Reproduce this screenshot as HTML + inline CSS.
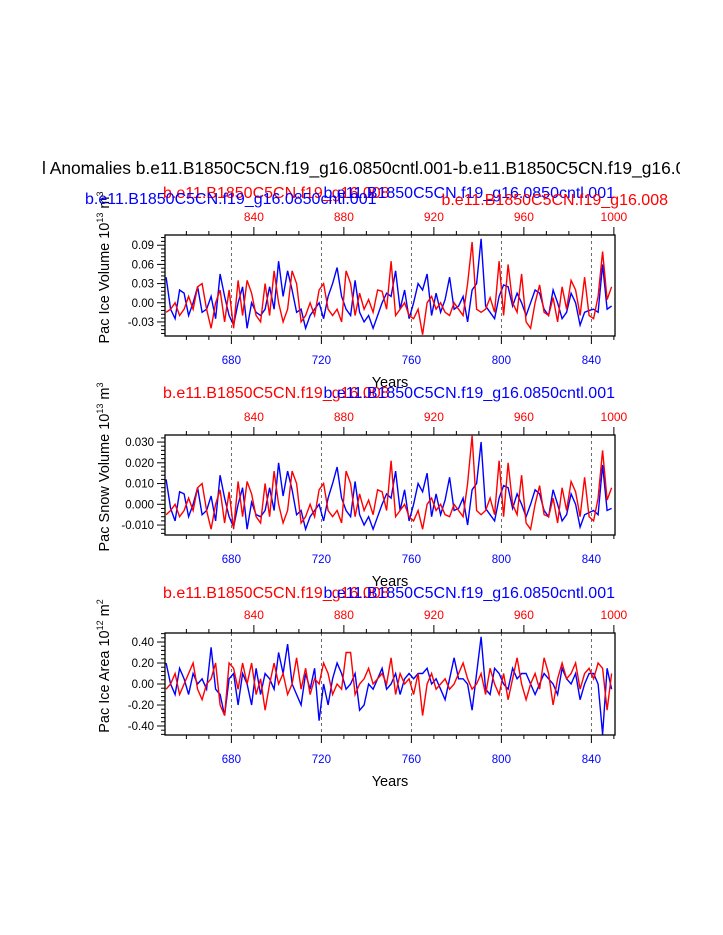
<!DOCTYPE html>
<html><head><meta charset="utf-8"><style>
body{margin:0;background:#fff;width:723px;height:935px;overflow:hidden;font-family:"Liberation Sans",sans-serif}
svg{display:block}
</style></head><body>
<svg id="chart" width="723" height="935" xmlns="http://www.w3.org/2000/svg" font-family="Liberation Sans, sans-serif">
<defs><clipPath id="tclip"><rect x="0" y="0" width="680" height="935"/></clipPath></defs>
<text x="42" y="174" font-size="17.4" clip-path="url(#tclip)">l Anomalies b.e11.B1850C5CN.f19_g16.0850cntl.001-b.e11.B1850C5CN.f19_g16.008</text>
</svg>
<script>
const years = []; for (let y = 651; y <= 849; y += 2) years.push(y);
const blueTicks = [680,720,760,800,840];
const redTicks = [840,880,920,960,1000];
const iceVolBlue = [0.04,-0.01,-0.025,0.02,0.015,-0.02,0.0,0.025,-0.015,-0.01,0.01,-0.025,0.045,0.01,-0.02,-0.035,0.0,0.025,-0.04,0.0,
-0.015,-0.02,-0.01,0.025,-0.01,0.065,0.01,0.05,0.02,-0.015,-0.01,-0.04,-0.02,-0.01,0.0,-0.025,0.01,0.03,0.055,0.01,
-0.01,-0.02,0.035,-0.015,-0.03,-0.02,-0.04,-0.02,0.0,0.015,0.01,0.05,-0.01,0.02,-0.025,0.0,0.03,0.02,0.045,-0.02,
0.015,-0.015,0.005,0.04,-0.01,-0.005,0.01,-0.03,0.02,0.03,0.1,-0.005,-0.015,-0.025,0.01,0.028,0.025,-0.005,0.015,0.0,
-0.02,0.0,0.02,0.015,-0.01,-0.02,0.02,0.0,-0.025,-0.015,0.015,0.0,-0.035,-0.015,-0.012,-0.01,-0.015,0.06,-0.01,-0.005];
const iceVolRed = [-0.015,-0.01,0.0,-0.02,-0.01,0.01,-0.01,0.025,0.03,-0.01,-0.04,0.0,0.02,-0.03,0.02,-0.04,0.035,-0.02,0.035,0.015,
-0.02,-0.03,0.03,-0.02,0.05,0.0,-0.03,-0.01,0.05,0.03,-0.03,-0.02,0.0,-0.02,0.02,0.03,-0.01,-0.02,-0.01,-0.03,
0.05,0.03,-0.02,0.015,-0.01,0.005,-0.015,0.02,0.018,-0.01,0.065,-0.02,-0.01,0.0,-0.02,-0.025,-0.01,-0.05,0.0,0.01,
-0.01,0.0,-0.015,-0.02,0.0,-0.01,-0.02,0.03,0.095,-0.01,-0.015,-0.01,0.008,-0.015,0.065,-0.02,0.06,0.0,-0.015,0.045,
-0.03,-0.04,0.0,0.028,-0.015,-0.02,0.008,-0.03,0.025,-0.01,0.035,0.02,-0.02,0.04,-0.02,-0.025,0.01,0.08,0.005,0.025];
const snowVolBlue = [0.012,-0.002,-0.008,0.006,0.005,-0.006,0.0,0.008,-0.005,-0.003,0.004,-0.008,0.014,0.003,-0.006,-0.011,0.0,0.008,-0.012,0.001,
-0.005,-0.006,-0.003,0.008,-0.003,0.02,0.004,0.016,0.007,-0.005,-0.003,-0.012,-0.006,-0.003,0.0,-0.008,0.003,0.01,0.018,0.003,
-0.003,-0.006,0.011,-0.005,-0.01,-0.006,-0.012,-0.006,0.0,0.005,0.003,0.016,-0.003,0.007,-0.008,0.0,0.01,0.006,0.015,-0.006,
0.005,-0.005,0.002,0.013,-0.003,-0.002,0.003,-0.01,0.007,0.01,0.03,-0.002,-0.005,-0.008,0.003,0.009,0.008,-0.002,0.005,0.0,
-0.006,0.0,0.007,0.005,-0.003,-0.006,0.007,0.0,-0.008,-0.005,0.005,0.0,-0.011,-0.005,-0.004,-0.003,-0.005,0.019,-0.003,-0.002];
const snowVolRed = [-0.005,-0.003,0.0,-0.006,-0.003,0.003,-0.003,0.008,0.01,-0.003,-0.012,0.0,0.007,-0.009,0.006,-0.012,0.011,-0.006,0.011,0.005,
-0.006,-0.009,0.01,-0.006,0.016,0.0,-0.009,-0.003,0.016,0.01,-0.009,-0.006,0.0,-0.006,0.007,0.01,-0.003,-0.006,-0.003,-0.009,
0.016,0.01,-0.006,0.005,-0.003,0.002,-0.005,0.007,0.006,-0.003,0.021,-0.006,-0.003,0.0,-0.006,-0.008,-0.003,-0.012,0.0,0.003,
-0.003,0.0,-0.005,-0.006,0.0,-0.003,-0.006,0.01,0.033,-0.003,-0.005,-0.003,0.003,-0.005,0.021,-0.006,0.02,0.0,-0.005,0.014,
-0.009,-0.012,0.0,0.009,-0.005,-0.006,0.003,-0.009,0.008,-0.003,0.011,0.006,-0.006,0.013,-0.006,-0.008,0.003,0.026,0.002,0.008];
const iceAreaBlue = [0.2,0.0,-0.1,0.15,0.05,-0.1,0.1,0.0,0.05,-0.05,0.35,-0.05,-0.1,-0.3,0.05,0.1,-0.2,0.1,0.0,-0.2,
0.15,-0.1,0.1,0.05,-0.05,0.3,0.1,0.38,0.0,-0.1,-0.2,0.1,-0.05,0.15,-0.35,0.0,-0.2,0.05,0.2,0.1,
-0.05,0.0,0.1,-0.25,-0.2,0.0,-0.05,0.05,0.15,-0.05,0.0,0.1,-0.1,0.05,0.1,0.05,0.1,0.1,0.15,0.0,
0.05,-0.05,-0.15,0.05,0.25,0.05,0.05,0.0,-0.25,0.1,0.45,-0.05,-0.1,0.15,0.1,0.0,-0.05,0.15,0.05,0.1,
0.1,0.0,-0.1,0.0,0.1,0.05,0.0,-0.1,0.15,0.05,0.0,0.1,-0.15,0.0,0.1,0.1,0.0,-0.48,0.15,-0.05];
const iceAreaRed = [-0.05,0.0,0.1,-0.1,0.0,0.1,0.2,-0.05,-0.15,0.0,0.05,0.2,-0.2,-0.3,0.2,0.15,-0.05,0.2,0.0,0.2,
-0.1,0.05,-0.25,0.0,0.2,0.0,0.1,-0.1,0.0,0.25,-0.05,0.15,-0.1,0.05,0.0,0.2,0.1,-0.1,0.0,-0.05,
0.3,0.3,-0.1,0.0,0.05,0.15,0.0,0.05,0.1,0.0,0.25,-0.1,0.1,0.0,0.05,-0.1,0.1,-0.3,0.0,0.1,
-0.05,0.0,0.05,-0.05,0.0,0.1,0.2,0.05,-0.05,0.0,0.1,-0.1,0.15,0.0,-0.1,0.1,-0.15,0.05,0.25,0.0,
-0.15,0.0,0.1,-0.05,0.25,0.1,-0.2,0.05,0.2,0.05,0.1,0.2,-0.05,0.1,0.15,0.05,0.2,0.15,-0.25,0.1];
const ticks1 = [0.09,0.06,0.03,0.00,-0.03], labels1 = ["0.09","0.06","0.03","0.00","-0.03"];
const ticks2 = [0.03,0.02,0.01,0.0,-0.01], labels2 = ["0.030","0.020","0.010","0.000","-0.010"];
const ticks3 = [0.4,0.2,0.0,-0.2,-0.4], labels3 = ["0.40","0.20","0.00","-0.20","-0.40"];

const svg = document.getElementById('chart');
const NS = 'http://www.w3.org/2000/svg';
function mk(tag, attrs, parent){const e=document.createElementNS(NS,tag);for(const k in attrs)e.setAttribute(k,attrs[k]);(parent||svg).appendChild(e);return e;}
const X0=165, X1=615, YR0=650.5, YR1=850.5;
const xs = yr => X0 + (yr-YR0)/(YR1-YR0)*(X1-X0);

function panel(cfg){
  const g = mk('g',{});
  
  
  const ys = v => cfg.top + (cfg.vmax - v)/(cfg.vmax-cfg.vmin)*(cfg.bot-cfg.top);
  blueTicks.forEach(t=>{const l=mk('line',{x1:xs(t),x2:xs(t),y1:cfg.top,y2:cfg.bot,stroke:'#444','stroke-width':0.8,'stroke-dasharray':'3,3'},g);
     });
  [[cfg.blue,'#0000ff','blue-series'],[cfg.red,'#ff0000','red-series']].forEach(([arr,col,nm])=>{
    const d = arr.map((v,i)=>(i?'L':'M')+xs(years[i]).toFixed(1)+','+ys(v).toFixed(1)).join('');
    const p = mk('path',{d:d,fill:'none',stroke:col,'stroke-width':1.4},g);
    
    
  });
  const fr = mk('rect',{x:X0,y:cfg.top,width:X1-X0,height:cfg.bot-cfg.top,fill:'none',stroke:'#000','stroke-width':1.3},g);
   
  for(let yr=660; yr<=850; yr+=10){const maj=blueTicks.includes(yr);
    mk('line',{x1:xs(yr),x2:xs(yr),y1:cfg.bot,y2:cfg.bot+(maj?8:4),stroke:'#000','stroke-width':1},g);}
  blueTicks.forEach(t=>{const tx=mk('text',{x:xs(t),y:cfg.bot+28,'font-size':11.5,fill:'#0000ff','text-anchor':'middle'},g);tx.textContent=t;
     });
  const yt=mk('text',{x:390,y:cfg.bot+51,'font-size':14.5,'text-anchor':'middle'},g); yt.textContent='Years';
   
  for(let yr=810; yr<=1000; yr+=10){const maj=redTicks.includes(yr);const x=xs(yr-150);
    mk('line',{x1:x,x2:x,y1:cfg.top,y2:cfg.top-(maj?8:4),stroke:'#000','stroke-width':1},g);}
  redTicks.forEach(t=>{const tx=mk('text',{x:xs(t-150),y:cfg.top-14,'font-size':12,fill:'#ff0000','text-anchor':'middle'},g);tx.textContent=t;
     });
  const step=(cfg.ticks[0]-cfg.ticks[1])/5;
  for(let v=cfg.ticks[cfg.ticks.length-1]-5*step; v<=cfg.vmax+1e-9; v+=step){
    if(v<cfg.vmin-1e-9) continue;
    const maj = cfg.ticks.some(t=>Math.abs(t-v)<step/10);
    mk('line',{x1:X0,x2:X0-(maj?8:4),y1:ys(v),y2:ys(v),stroke:'#000','stroke-width':1},g);
  }
  cfg.ticks.forEach((t,i)=>{const tx=mk('text',{x:X0-11,y:ys(t)+4,'font-size':11.5,'text-anchor':'end'},g);tx.textContent=cfg.labels[i];
     });
  const cy=(cfg.top+cfg.bot)/2-18;
  const ya=mk('text',{x:0,y:0,'font-size':14.5,'text-anchor':'middle',transform:`translate(109,${cy}) rotate(-90)`},g);
  ya.innerHTML=cfg.ytitle;
   
  cfg.subs.forEach(s=>{const tx=mk('text',{x:s[0],y:s[1],'font-size':16,fill:s[2],'text-anchor':s[3]},g);tx.textContent=s[4];
     });
}
const R='b.e11.B1850C5CN.f19_g16.008', B='b.e11.B1850C5CN.f19_g16.0850cntl.001';
panel({name:'ice-volume-panel',top:235,bot:336,vmax:0.106,vmin:-0.052,blue:iceVolBlue,red:iceVolRed,ticks:ticks1,labels:labels1,
  ytitle:'Pac Ice Volume 10<tspan dy="-6" font-size="9">13</tspan><tspan dy="6"> m</tspan><tspan dy="-6" font-size="9">3</tspan>',
  subs:[[163,198,'#ff0000','start',R],[85,204,'#0000ff','start',B],[615,198,'#0000ff','end',B],[668,205,'#ff0000','end',R]]});
panel({name:'snow-volume-panel',top:435,bot:535,vmax:0.0334,vmin:-0.0148,blue:snowVolBlue,red:snowVolRed,ticks:ticks2,labels:labels2,
  ytitle:'Pac Snow Volume 10<tspan dy="-6" font-size="9">13</tspan><tspan dy="6"> m</tspan><tspan dy="-6" font-size="9">3</tspan>',
  subs:[[163,398,'#ff0000','start',R],[615,398,'#0000ff','end',B]]});
panel({name:'ice-area-panel',top:633,bot:735,vmax:0.486,vmin:-0.486,blue:iceAreaBlue,red:iceAreaRed,ticks:ticks3,labels:labels3,
  ytitle:'Pac Ice Area 10<tspan dy="-6" font-size="9">12</tspan><tspan dy="6"> m</tspan><tspan dy="-6" font-size="9">2</tspan>',
  subs:[[163,598,'#ff0000','start',R],[615,598,'#0000ff','end',B]]});
</script>
</body></html>
